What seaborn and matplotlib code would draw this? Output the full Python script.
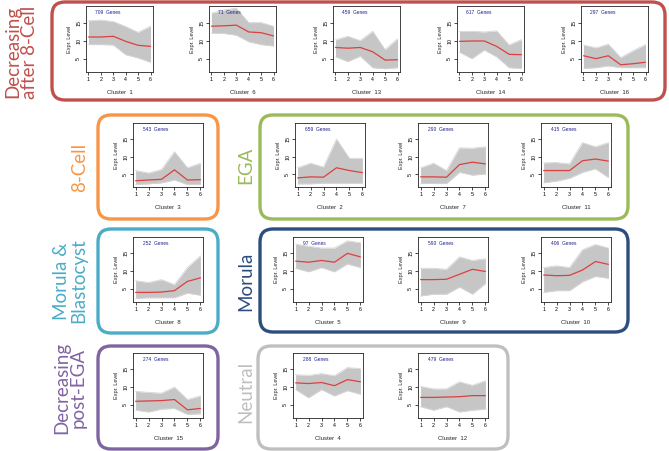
import matplotlib
matplotlib.use("Agg")
import pandas as pd
import matplotlib.pyplot as plt
import seaborn as sns
from matplotlib.patches import FancyBboxPatch

# developmental stages on the x axis
stages = [1, 2, 3, 4, 5, 6]

# number of genes per cluster
gene_counts = {1: 709, 6: 71, 13: 459, 14: 617, 16: 297, 3: 543, 2: 659, 7: 290,
               11: 415, 8: 252, 5: 97, 9: 590, 10: 406, 15: 274, 4: 288, 12: 479}

# cluster mean (red line)
mean_expr = {
    1: [11.0, 11.0, 11.2, 9.8, 8.7, 8.4],
    6: [14.0, 14.1, 14.3, 12.4, 12.2, 11.3],
    13: [8.1, 7.9, 8.1, 6.9, 4.6, 4.7],
    14: [9.8, 9.9, 9.9, 8.4, 6.2, 6.1],
    16: [5.8, 5.0, 5.8, 3.3, 3.6, 4.0],
    3: [3.1, 3.3, 3.5, 6.2, 3.3, 3.4],
    2: [3.9, 4.2, 4.1, 6.8, 6.0, 5.4],
    7: [4.2, 4.2, 4.1, 7.7, 8.4, 7.9],
    11: [6.0, 6.0, 6.0, 8.8, 9.3, 8.7],
    8: [4.0, 4.0, 4.1, 4.5, 7.1, 8.1],
    5: [12.8, 12.5, 13.0, 12.5, 15.0, 14.0],
    9: [7.6, 7.6, 7.7, 9.1, 10.5, 9.9],
    10: [8.9, 8.7, 8.8, 10.3, 12.7, 11.9],
    15: [6.0, 6.1, 6.2, 6.5, 3.6, 4.0],
    4: [11.2, 11.0, 11.3, 10.4, 12.1, 11.5],
    12: [7.1, 7.1, 7.2, 7.3, 7.6, 7.6],
}

# upper and lower envelope of the individual gene profiles (grey band)
upper_expr = {
    1: [15.5, 15.7, 15.3, 13.9, 12.3, 14.0],
    6: [17.6, 18.5, 19.0, 15.0, 15.0, 14.0],
    13: [10.2, 11.2, 10.0, 12.6, 7.5, 10.5],
    14: [12.5, 12.6, 12.4, 12.7, 8.8, 10.3],
    16: [8.8, 8.0, 9.0, 5.3, 7.2, 8.9],
    3: [6.0, 5.3, 6.3, 11.4, 6.8, 8.1],
    2: [6.8, 8.1, 7.0, 15.0, 9.5, 9.5],
    7: [6.8, 8.1, 6.0, 12.5, 12.4, 12.8],
    11: [8.2, 8.3, 7.9, 14.0, 12.8, 14.0],
    8: [7.3, 6.8, 7.6, 6.2, 11.0, 14.3],
    5: [17.6, 17.0, 16.5, 16.5, 18.5, 18.0],
    9: [10.8, 10.8, 10.5, 14.0, 13.0, 13.5],
    10: [11.0, 11.5, 11.0, 16.0, 17.5, 16.5],
    15: [8.8, 8.5, 8.3, 10.0, 6.5, 7.5],
    4: [13.5, 13.3, 13.8, 13.2, 15.5, 15.2],
    12: [10.2, 9.5, 9.5, 11.5, 10.5, 11.8],
}
lower_expr = {
    1: [8.9, 8.9, 8.8, 6.1, 5.2, 4.0],
    6: [12.1, 12.0, 11.5, 9.7, 8.9, 8.5],
    13: [5.5, 4.2, 5.7, 2.5, 2.2, 2.5],
    14: [6.8, 5.0, 7.4, 5.5, 2.5, 2.3],
    16: [2.3, 2.5, 3.0, 2.5, 2.5, 2.5],
    3: [2.0, 2.2, 2.5, 3.3, 2.0, 2.0],
    2: [2.2, 2.2, 2.4, 2.4, 2.4, 2.4],
    7: [2.3, 2.3, 2.3, 5.5, 4.7, 5.0],
    11: [2.5, 3.0, 3.8, 5.5, 6.5, 4.0],
    8: [2.3, 2.5, 2.5, 2.5, 3.8, 3.2],
    5: [10.8, 9.8, 11.0, 9.8, 12.0, 11.0],
    9: [3.0, 3.5, 3.5, 5.5, 3.5, 6.5],
    10: [4.0, 4.5, 4.5, 7.0, 8.5, 8.0],
    15: [3.5, 3.0, 3.8, 4.0, 2.3, 2.5],
    4: [9.3, 7.0, 9.3, 7.5, 9.0, 8.0],
    12: [4.5, 3.5, 4.5, 3.0, 3.5, 3.8],
}

# layout in pixels: label, colour, rounded box, label centre, panels (cluster, x, y, w, h)
groups = [
    ("Decreasing\nafter 8-Cell", "#c0504d", (52, 2, 665, 100), (21, 52),
     [(1, 86, 6, 67, 66), (6, 209, 6, 67, 66), (13, 333, 6, 67, 66),
      (14, 457, 6, 67, 66), (16, 581, 6, 67, 66)]),
    ("8-Cell", "#f79646", (98, 115, 218, 219), (80, 167),
     [(3, 133, 123, 70, 64)]),
    ("EGA", "#9bbb59", (260, 115, 628, 219), (246, 165),
     [(2, 295, 123, 70, 64), (7, 418, 123, 70, 64), (11, 541, 123, 70, 64)]),
    ("Morula &\nBlastocyst", "#4bacc6", (98, 229, 218, 333), (70, 281),
     [(8, 133, 237, 70, 65)]),
    ("Morula", "#2c4d7e", (260, 229, 628, 332), (246, 281),
     [(5, 293, 237, 70, 65), (9, 418, 237, 70, 65), (10, 541, 237, 70, 65)]),
    ("Decreasing\npost-EGA", "#8064a2", (98, 346, 218, 449), (70, 388),
     [(15, 133, 353, 70, 65)]),
    ("Neutral", "#bfbfbf", (258, 346, 508, 449), (246, 392),
     [(4, 293, 353, 70, 65), (12, 418, 353, 70, 65)]),
]

W, H = 669, 451
sns.set_style("white")
plt.rcParams['font.family'] = ['Liberation Sans', 'DejaVu Sans']

fig = plt.figure(figsize=(W / 100, H / 100), dpi=100)
bg = fig.add_axes([0, 0, 1, 1])
bg.set_xlim(0, W)
bg.set_ylim(H, 0)
bg.axis('off')


def draw_cluster(ax, c):
    df = pd.DataFrame({'stage': stages, 'mean': mean_expr[c],
                       'lo': lower_expr[c], 'hi': upper_expr[c]})
    ax.fill_between(df['stage'], df['lo'], df['hi'], color='#c6c6c6', lw=0)
    # faint outline of the outermost profiles
    ax.plot(df['stage'], df['hi'], color='#d6d6d6', lw=0.6)
    ax.plot(df['stage'], df['lo'], color='#d6d6d6', lw=0.6)
    sns.lineplot(data=df, x='stage', y='mean', ax=ax, color='#dc4040', lw=0.9)
    ax.set_xlim(0.8, 6.2)
    ax.set_ylim(1.3, 19.6)
    ax.set_xticks(stages)
    ax.set_yticks([5, 10, 15])
    ax.tick_params(axis='both', labelsize=3.8, length=2, width=0.5, pad=1.5,
                   direction='out', left=True, bottom=True, colors='black')
    for lab in ax.get_yticklabels():
        lab.set_rotation(90)
        lab.set_va('center')
    for s in ax.spines.values():
        s.set_color('#222222')
        s.set_linewidth(0.6)
    ax.set_xlabel(f"Cluster  {c}", fontsize=4.3, labelpad=6)
    ax.set_ylabel("Expr. Level", fontsize=4.0, labelpad=3)
    ax.text(0.14, 0.94, f"{gene_counts[c]}  Genes", transform=ax.transAxes,
            fontsize=3.5, color='#1c1c8c', va='top', ha='left')


for label, color, (x0, y0, x1, y1), (lx, ly), panels in groups:
    box = FancyBboxPatch((x0, y0), x1 - x0, y1 - y0,
                         boxstyle="round,pad=0,rounding_size=13",
                         fc='white', ec=color, lw=2.4)
    bg.add_patch(box)
    bg.text(lx, ly, label, rotation=90, ha='center', va='center', color=color,
            fontsize=13.5, family=['Lato', 'DejaVu Sans'], linespacing=1.0)
    for c, px, py, pw, ph in panels:
        ax = fig.add_axes([px / W, 1 - (py + ph) / H, pw / W, ph / H])
        draw_cluster(ax, c)

fig.savefig("out.png", dpi=100)
